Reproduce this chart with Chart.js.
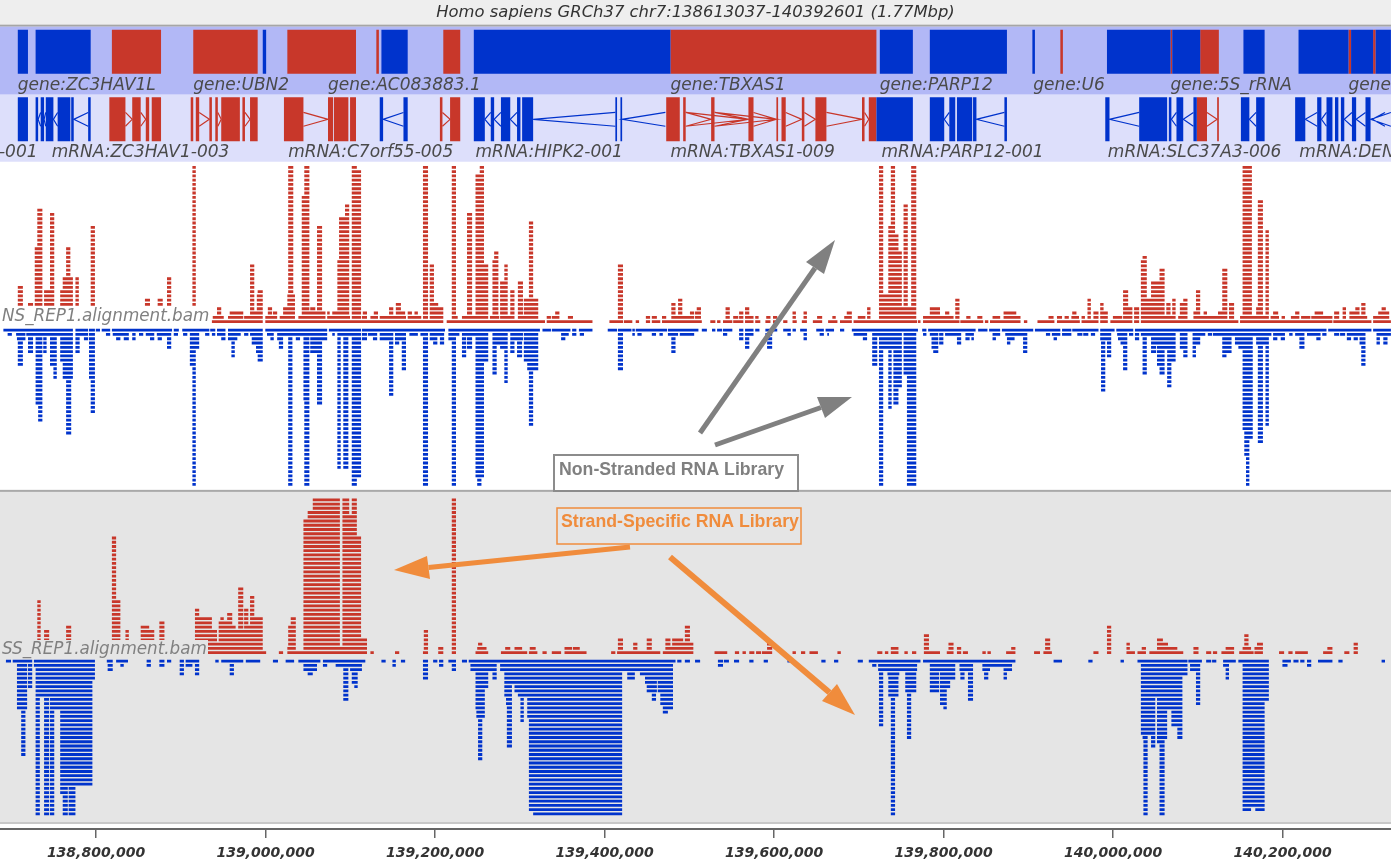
<!DOCTYPE html>
<html>
<head>
<meta charset="utf-8">
<title>GRCh37 chr7 read pileups</title>
<script src="https://cdn.jsdelivr.net/npm/chart.js@4/dist/chart.umd.min.js"></script>
<style>
html,body{margin:0;padding:0;background:#fff;overflow:hidden}
canvas{display:block}
</style>
</head>
<body>
<canvas id="browser" width="1391" height="862"></canvas>
<script>
//window shown in the browser
const viewStartBp=138686700;
const viewLengthKb=1641.1;
const xTickValues=[138800000,139000000,139200000,139400000,139600000,139800000,140000000,140200000];
const titleText='Homo sapiens GRCh37 chr7:138613037-140392601 (1.77Mbp)';

//annotation track, all positions are kb from the left of the window
const geneBlocksMinus=[[21,33],[42,107],[310,314],[450,481],[559,791],[1038,1077],[1097,1188],[1218,1221],[1306,1381],[1383,1416],[1467,1492],[1532,1591],[1594,1620],[1623,1641]];
const geneBlocksPlus=[[132,190],[228,304],[339,420],[444,447],[523,543],[791,1034],[1251,1254],[1381,1383],[1416,1438],[1591,1594],[1620,1623]];
const geneNames=['gene:ZC3HAV1L','gene:UBN2','gene:AC083883.1','gene:TBXAS1','gene:PARP12','gene:U6','gene:5S_rRNA','gene:DENND2A'];
const geneNameKb=[21,228,387,791,1038,1219,1381,1591];

const exonsMinus=[[21,33],[42,45],[48,52],[54,63],[68,83],[84,87],[104,107],[448,452],[476,481],[559,572],[579,583],[591,602],[610,614],[616,629],[726,728],[732,734],[1034,1077],[1097,1114],[1120,1127],[1129,1147],[1148,1152],[1185,1188],[1304,1309],[1344,1377],[1379,1382],[1388,1396],[1408,1412],[1464,1474],[1482,1492],[1528,1540],[1554,1559],[1565,1572],[1575,1579],[1582,1586],[1595,1600],[1611,1617]];
const exonsPlus=[[129,148],[156,166],[172,176],[179,190],[225,228],[231,235],[247,250],[254,257],[261,283],[286,289],[295,304],[335,358],[387,393],[394,411],[413,420],[519,522],[531,543],[786,802],[806,809],[839,843],[883,889],[916,918],[922,927],[946,949],[962,975],[1017,1020],[1025,1034],[1412,1424],[1436,1438]];
const intronsMinus=[[45,48],[52,54],[63,68],[87,104],[452,476],[572,579],[583,591],[602,610],[629,726],[734,785],[1114,1120],[1152,1185],[1309,1344],[1382,1388],[1396,1408],[1474,1482],[1540,1554],[1559,1565],[1586,1595],[1600,1611],[1617,1641],[1619,1634]];
const intronsPlus=[[148,156],[166,172],[235,247],[257,261],[289,295],[358,387],[522,531],[809,883],[843,916],[809,839],[843,883],[889,916],[927,946],[949,962],[975,1017],[1020,1025],[1424,1436]];
const mrnaNames=['mRNA:ZC3HAV1L-001','mRNA:ZC3HAV1-003','mRNA:C7orf55-005','mRNA:HIPK2-001','mRNA:TBXAS1-009','mRNA:PARP12-001','mRNA:SLC37A3-006','mRNA:DENND2A-001'];
const mrnaNameKb=[-175,61,340,561,791,1040,1307,1533];

//read piles: [start kb, end kb, depth]
const nsPlusPiles=[[21,27,9],[33,39,5],[41,46,18],[44,50,27],[52,58,8],[58,63,8],[59,64,26],[71,77,8],[74,80,11],[78,83,18],[81,86,11],[89,93,11],[107,112,23],[171,177,6],[186,192,6],[197,202,11],[227,231,37],
[250,310,1],[313,395,1],[398,490,1],[492,523,1],[527,538,1],[539,643,1],[645,693,1],[693,699,1],[719,734,1],[736,746,1],[750,754,1],[762,767,1],[769,779,1],[781,828,1],
[256,261,4],[251,257,2],[260,264,2],[271,287,3],[269,286,2],[288,309,2],[295,309,3],[295,300,14],[303,308,7],[304,310,8],[313,327,2],[316,321,4],[322,327,3],[330,346,2],[334,346,4],[339,348,7],[340,346,37],
[352,384,2],[356,362,30],[359,365,37],[363,384,3],[366,372,4],[374,380,23],[386,395,2],[386,389,3],[392,399,3],[398,413,2],[398,402,15],[400,409,25],[407,412,28],[415,426,36],[415,421,37],
[427,433,2],[428,433,3],[437,446,2],[441,446,3],[448,479,2],[459,464,4],[467,473,5],[468,478,3],[481,486,3],[489,493,3],[486,497,2],[499,505,37],[507,512,14],[507,517,5],[507,523,4],[537,540,2],[533,538,37],
[545,576,2],[551,557,26],[561,571,35],[566,571,37],[561,576,14],[578,589,2],[581,586,15],[583,588,17],[590,605,2],[590,599,10],[595,599,14],[602,607,8],[611,621,2],[611,617,10],[618,635,6],[624,629,24],
[645,650,2],[651,657,2],[655,660,3],[670,676,2],[729,735,14],[792,797,5],[800,805,6],[762,767,2],[769,775,2],[781,786,2],[792,814,2],
[838,844,1],[846,850,1],[853,864,1],[865,877,1],[879,889,1],[891,897,1],[903,909,1],[912,918,1],[924,929,1],[935,940,1],[946,952,1],[959,970,1],[977,988,1],[991,997,1],[1007,1082,1],[1083,1086,1],[1089,1130,1],[1133,1160,1],[1162,1166,1],[1168,1201,1],[1208,1212,1],[1224,1244,1],
[814,819,3],[820,826,3],[822,827,4],[856,861,4],[865,871,2],[872,877,3],[879,884,4],[884,889,2],[891,895,2],[904,909,2],[912,917,2],[935,939,3],[948,952,3],[964,970,2],[982,986,2],[996,1004,2],[999,1005,3],[1012,1021,2],[1023,1027,4],
[1037,1052,7],[1037,1042,37],[1048,1052,23],[1051,1056,37],[1054,1064,17],[1054,1060,21],[1037,1058,4],[1060,1081,4],[1066,1071,28],[1075,1081,37],[1089,1125,2],[1127,1132,6],[1097,1109,4],[1115,1120,3],[1140,1145,2],[1153,1159,2],[1171,1180,2],[1184,1204,2],[1184,1199,3],
[1247,1274,1],[1276,1296,1],[1298,1307,1],[1310,1336,1],[1338,1344,1],[1346,1437,1],[1441,1461,1],[1463,1572,1],[1573,1604,1],[1606,1611,1],[1613,1618,1],[1620,1641,1],
[1237,1243,2],[1247,1253,2],[1256,1261,2],[1264,1273,2],[1276,1280,2],[1290,1296,3],[1313,1324,2],[1390,1401,2],[1416,1422,2],[1424,1437,2],[1463,1483,2],[1486,1495,2],[1499,1509,2],[1512,1516,2],[1523,1533,2],[1535,1546,2],[1547,1553,2],[1555,1572,2],[1592,1613,2],[1620,1635,2],
[1265,1270,3],[1437,1448,3],[1502,1508,3],[1528,1533,3],[1551,1561,3],[1592,1602,3],[1626,1632,3],[1633,1639,3],[1420,1424,3],[1630,1635,4],[1599,1604,4],[1482,1487,4],[1298,1307,3],[1298,1302,5],
[1283,1287,6],[1325,1331,8],[1325,1336,4],[1338,1344,4],[1346,1366,6],[1346,1351,15],[1348,1353,16],[1358,1366,10],[1368,1374,13],[1365,1370,10],[1346,1387,2],[1376,1381,5],[1383,1387,6],[1392,1397,5],[1396,1401,6],[1408,1412,3],[1411,1416,8],
[1442,1448,13],[1450,1456,5],[1466,1477,37],[1484,1490,29],[1493,1497,22],[1606,1611,5],[1584,1588,4],[1574,1580,3]];

const nsMinusPiles=[[4,86,1],[90,104,1],[106,111,1],[113,118,1],[120,130,1],[132,143,1],[144,149,1],[151,203,1],[205,211,1],[215,245,1],[248,254,1],[256,266,1],[269,288,1],[291,310,1],[313,327,1],[329,386,1],[388,425,1],[427,525,1],[529,637,1],[640,650,1],[651,673,1],[675,680,1],[683,699,1],[717,728,1],[729,745,1],[750,771,1],[773,787,1],[789,824,1],
[828,834,1],[840,844,1],[846,852,1],[853,864,1],[872,877,1],[879,889,1],[891,896,1],[903,917,1],[924,929,1],[935,939,1],[944,952,1],[963,969,1],[974,984,1],[991,996,1],[1005,1021,1],[1023,1083,1],[1088,1092,1],[1095,1151,1],[1154,1165,1],[1167,1176,1],[1182,1219,1],[1221,1251,1],
[1253,1264,1],[1265,1296,1],[1298,1307,1],[1310,1315,1],[1317,1337,1],[1339,1425,1],[1429,1464,1],[1467,1565,1],[1567,1618,1],[1620,1641,1],
[9,14,2],[19,28,2],[31,86,2],[20,30,3],[21,27,9],[33,39,6],[42,47,18],[45,50,22],[51,55,6],[59,64,9],[63,67,12],[71,86,8],[74,80,12],[78,84,25],[81,86,12],[90,104,2],[89,94,6],[99,104,3],[105,111,12],[107,112,20],
[125,130,2],[133,149,2],[137,142,3],[146,152,3],[156,160,3],[164,169,2],[172,182,2],[177,182,3],[185,201,2],[186,191,3],[197,202,5],[205,210,2],[216,221,2],[224,235,5],[224,230,9],[227,231,37],[242,247,2],[250,254,2],[256,266,2],[261,266,3],
[269,284,2],[269,280,3],[273,277,7],[288,293,2],[295,310,2],[297,307,4],[302,307,6],[304,310,8],[315,320,2],[319,323,3],[327,332,3],[329,334,5],[329,386,2],[340,345,37],[349,354,3],[358,362,17],[359,365,37],[366,386,3],[366,380,6],[374,380,18],
[392,395,2],[398,425,2],[398,402,33],[405,411,33],[415,426,35],[415,421,37],[427,433,3],[434,445,2],[440,445,3],[448,464,3],[466,478,3],[459,464,16],[466,471,4],[474,479,10],[483,493,2],[496,505,2],[499,505,37],[507,523,2],[507,512,3],[511,516,4],[519,524,4],[529,535,3],[537,542,2],[533,538,37],
[545,576,2],[545,550,7],[551,557,5],[561,576,8],[561,571,35],[563,568,37],[581,590,4],[581,586,11],[590,599,5],[595,599,13],[602,617,3],[602,607,6],[610,616,7],[618,635,8],[622,635,10],[624,629,23],[662,667,3],[662,671,2],[675,680,2],[684,689,2],[729,735,10],
[746,749,2],[752,757,2],[769,774,2],[778,782,2],[788,800,2],[792,797,6],[802,819,2],[853,858,2],[872,877,3],[879,889,2],[879,884,5],[903,911,2],[905,911,5],[929,933,2],[948,952,3],[967,972,2],[976,978,2],
[1007,1020,2],[1018,1023,3],[1029,1035,9],[1029,1063,2],[1037,1057,5],[1037,1042,37],[1048,1052,19],[1054,1064,14],[1054,1060,18],[1066,1071,11],[1066,1081,5],[1070,1081,37],[1089,1093,2],[1097,1106,2],[1099,1104,5],[1101,1107,6],[1108,1113,4],[1115,1129,2],[1129,1134,4],[1139,1147,2],[1139,1144,3],[1146,1149,3],[1171,1180,2],[1171,1175,3],[1186,1210,2],[1188,1197,3],[1188,1192,4],[1207,1212,6],
[1234,1239,2],[1241,1251,2],[1243,1247,3],[1253,1264,2],[1271,1277,2],[1278,1284,2],[1287,1292,2],[1298,1307,3],[1299,1304,15],[1306,1311,7],[1318,1324,2],[1319,1330,3],[1325,1330,10],[1322,1326,4],[1332,1337,2],[1339,1344,3],
[1346,1366,2],[1348,1353,11],[1358,1366,4],[1358,1364,6],[1365,1370,9],[1368,1378,3],[1368,1374,11],[1371,1387,5],[1377,1382,14],[1377,1387,8],[1392,1397,5],[1396,1401,7],[1407,1422,2],[1407,1416,4],[1407,1411,7],[1425,1430,2],
[1431,1500,2],[1442,1453,6],[1442,1447,7],[1457,1463,4],[1461,1476,5],[1466,1477,24],[1468,1473,30],[1470,1474,37],[1473,1478,26],[1482,1487,4],[1484,1490,27],[1489,1495,4],[1493,1497,23],
[1502,1513,2],[1502,1507,3],[1511,1516,3],[1521,1525,2],[1528,1539,2],[1533,1539,5],[1542,1558,2],[1553,1558,3],[1560,1565,2],[1574,1580,2],[1581,1587,2],[1589,1599,2],[1589,1594,3],[1597,1602,3],[1601,1611,2],[1604,1609,4],[1606,1611,9],[1624,1641,2],[1624,1628,4],[1632,1637,4]];

const ssPlusPiles=[[44,48,13],[52,58,6],[78,84,7],[132,137,28],[132,142,13],[148,152,6],[166,176,7],[176,182,6],[188,194,8],[230,235,11],[230,250,9],[249,256,6],[249,309,3],[258,269,8],[260,264,9],[268,274,10],[264,278,7],[277,307,6],[281,287,16],[288,293,11],[295,300,14],[295,310,9],[288,310,7],[310,314,1],
[329,334,1],[339,349,2],[340,345,7],[343,349,9],[339,431,1],[358,401,32],[363,401,34],[369,401,37],[404,426,28],[404,421,33],[404,412,37],[415,421,37],[358,431,2],[426,433,4],
[437,441,1],[466,471,1],[499,505,1],[500,505,6],[517,523,2],[533,538,37],[561,576,1],[563,574,2],[564,569,3],[591,622,1],[596,602,2],[607,616,2],[624,634,1],[625,632,2],[640,645,1],[651,662,1],[666,692,1],[666,675,2],[676,684,2],
[721,726,1],[728,779,1],[729,735,4],[747,752,3],[763,769,4],[782,814,1],[785,791,4],[793,806,4],[787,814,2],[798,814,3],[808,814,7],[814,818,3],
[843,858,1],[867,872,1],[876,880,1],[884,890,1],[892,898,1],[899,911,1],[905,911,3],[935,939,1],[945,950,1],[955,965,1],[988,992,1],[1035,1041,1],[1044,1048,1],[1051,1056,2],[1055,1060,2],[1067,1071,1],[1076,1081,1],[1090,1096,5],[1090,1109,1],[1117,1122,1],[1119,1125,3],[1129,1134,2],[1136,1142,1],[1159,1163,1],[1165,1169,1],[1187,1198,1],[1193,1198,2],[1220,1227,1],
[1231,1241,1],[1233,1239,4],[1290,1296,1],[1306,1311,7],[1329,1339,1],[1329,1333,3],[1342,1352,1],[1347,1352,2],[1356,1366,1],[1368,1396,1],[1365,1372,4],[1365,1378,3],[1370,1389,2],[1408,1414,2],[1423,1429,1],[1431,1436,1],[1441,1456,1],[1446,1456,2],[1462,1479,1],[1466,1476,2],[1468,1473,5],[1480,1490,2],[1483,1490,3],[1509,1515,1],[1520,1525,1],[1528,1543,1],[1561,1572,1],[1566,1572,2],[1586,1592,1],[1597,1602,3]];

const ssMinusPiles=[[7,13,1],[15,38,1],[40,51,1],[52,58,1],[59,86,1],[89,100,1],[101,111,1],[126,133,1],[137,151,1],[173,178,1],[188,194,1],[197,202,1],[212,217,1],[219,234,1],[254,258,1],[261,287,1],[290,307,1],[322,328,1],[337,347,1],[352,378,1],[381,431,1],
[20,32,12],[25,30,23],[33,38,7],[40,112,2],[42,90,5],[100,112,5],[42,109,9],[59,109,12],[71,109,20],[77,109,30],[71,77,32],[42,47,37],[52,58,37],[59,64,37],[74,80,37],[81,89,37],
[127,133,3],[142,146,2],[173,178,2],[188,194,2],[212,217,4],[219,227,2],[230,235,4],[271,276,4],[358,374,3],[363,369,4],[381,386,2],[396,401,2],[405,411,10],[401,427,2],[413,427,3],[415,421,6],[418,422,7],
[450,455,1],[463,467,2],[473,478,1],[499,505,5],[511,516,1],[518,523,2],[529,535,1],[533,538,3],[545,551,1],[553,596,1],[555,586,3],[561,576,7],[561,570,12],[562,572,14],[564,569,24],[581,586,5],
[598,616,1],[590,616,3],[595,611,4],[595,599,9],[597,602,11],[598,604,21],[618,797,1],[618,794,3],[602,734,6],[607,734,8],[611,734,9],[614,618,15],[622,734,14],[624,734,36],[629,734,37],
[740,749,5],[755,771,4],[761,771,6],[763,775,8],[769,774,10],[774,794,5],[776,794,8],[779,791,11],[782,788,13],[788,794,12],
[799,804,1],[808,814,1],[820,826,1],[847,853,2],[854,860,1],[866,872,1],[884,889,1],[901,906,1],[929,932,1],[969,974,1],[984,989,1],[1012,1018,1],
[1025,1045,1],[1029,1034,2],[1036,1049,3],[1037,1042,16],[1047,1061,4],[1048,1052,9],[1051,1056,37],[1055,1060,9],[1055,1082,3],[1068,1081,8],[1070,1075,19],[1048,1086,1],[1089,1120,1],[1097,1127,3],[1097,1108,8],[1109,1127,5],[1109,1121,7],[1109,1114,11],[1113,1117,12],[1125,1135,1],[1138,1189,1],[1132,1148,3],[1142,1148,10],[1133,1138,5],[1159,1168,3],[1161,1166,5],[1168,1194,2],[1184,1194,3],[1184,1188,5],[1193,1198,1],
[1243,1253,1],[1284,1289,1],[1322,1326,1],[1342,1372,1],[1377,1399,1],[1346,1398,2],[1348,1353,19],[1349,1354,37],[1346,1358,18],[1358,1366,9],[1358,1363,21],[1365,1370,20],[1368,1374,37],[1372,1377,19],[1371,1392,12],[1382,1392,16],[1389,1395,19],[1377,1401,4],
[1402,1418,1],[1404,1414,3],[1411,1416,11],[1423,1429,1],[1430,1435,1],[1443,1458,1],[1443,1449,2],[1446,1450,5],[1461,1490,1],[1493,1497,4],[1466,1490,2],[1466,1497,4],[1466,1496,8],[1466,1497,10],[1466,1487,12],[1466,1492,13],[1466,1486,32],[1466,1492,35],[1466,1476,36],[1481,1492,36],
[1513,1523,1],[1513,1519,2],[1526,1532,1],[1534,1539,1],[1542,1547,2],[1555,1572,1],[1579,1584,1],[1630,1634,1]];

const RED='#c8372a';
const BLUE='#0033cc';
const toBp=kb=>viewStartBp+kb*1000;

//one flat segment per read row, a NaN point breaks the line between them
function pileRows(piles,sign){
  let pts=[];
  for(let row=1;row<=37;row++){
    piles.forEach(p=>{
      if(p[2]>=row){
        pts.push({x:toBp(p[0]),y:sign*row},{x:toBp(p[1]),y:sign*row},{x:toBp(p[1]),y:NaN});
      }
    });
  }
  return pts;
}
function blocks(list,y){
  let pts=[];
  list.forEach(b=>pts.push({x:toBp(b[0]),y:y},{x:toBp(b[1]),y:y},{x:toBp(b[1]),y:NaN}));
  return pts;
}
//intron chevrons: minus strand points left, plus strand points right
function chevrons(list,y,open,apex){
  let pts=[];
  list.forEach(b=>{
    pts.push({x:toBp(b[open]),y:y+7},{x:toBp(b[apex]),y:y},{x:toBp(b[open]),y:y-7},{x:toBp(b[open]),y:NaN});
  });
  return pts;
}
function track(data,axis,color,width){
  return {data:data,yAxisID:axis,borderColor:color,borderWidth:width,pointRadius:0,fill:false,tension:0,spanGaps:false,borderCapStyle:'butt'};
}
function arrow(ctx,tail,tip,a,b,color,width){
  ctx.strokeStyle=color;
  ctx.fillStyle=color;
  ctx.lineWidth=width;
  ctx.beginPath();
  ctx.moveTo(tail[0],tail[1]);
  ctx.lineTo((a[0]+b[0])/2,(a[1]+b[1])/2);
  ctx.stroke();
  ctx.beginPath();
  ctx.moveTo(tip[0],tip[1]);
  ctx.lineTo(a[0],a[1]);
  ctx.lineTo(b[0],b[1]);
  ctx.closePath();
  ctx.fill();
}
//hidden track axes stacked down the page, top one has the highest weight
function trackAxis(height,weight,min,max){
  return {
    display:false,position:'left',stack:'tracks',stackWeight:height,weight:weight,min:min,max:max,
    ticks:{display:false},
    afterFit(s){s.paddingTop=0;s.paddingBottom=0;}
  };
}

//bands behind the tracks
const bandsPlugin={
  id:'bands',
  beforeDraw(chart){
    const c=chart.ctx, s=chart.scales, w=chart.width;
    c.save();
    c.fillStyle='#eeeeee';
    c.fillRect(0,0,w,s.yGene.top);
    c.fillStyle='#a6a6a6';
    c.fillRect(0,s.yGene.top-2,w,2);
    c.fillStyle='#b2b8f6';
    c.fillRect(0,s.yGene.top,w,s.yGene.height);
    c.fillStyle='#dddffb';
    c.fillRect(0,s.yMrna.top,w,s.yMrna.height);
    c.fillStyle='#e5e5e5';
    c.fillRect(0,s.ySs.top,w,s.ySs.height);
    c.fillStyle='#a9a9a9';
    c.fillRect(0,s.ySs.top-1,w,2);
    c.fillStyle='#c8c8c8';
    c.fillRect(0,s.ySs.bottom,w,2);
    c.restore();
  }
};

//names, track labels and the hand drawn call-outs
const labelsPlugin={
  id:'labels',
  afterDatasetsDraw(chart){
    const c=chart.ctx, s=chart.scales;
    c.save();
    c.textBaseline='middle';
    c.textAlign='left';
    c.font='italic 17px "DejaVu Sans"';
    c.fillStyle='#4a4a4a';
    geneNames.forEach((n,i)=>c.fillText(n,s.x.getPixelForValue(toBp(geneNameKb[i])),s.yGene.getPixelForValue(9)));
    mrnaNames.forEach((n,i)=>c.fillText(n,s.x.getPixelForValue(toBp(mrnaNameKb[i])),s.yMrna.getPixelForValue(9)));

    //the alignment labels sit on an opaque strip that hides the lowest rows
    c.font='italic 16.8px "DejaVu Sans"';
    c.fillStyle='#ffffff';
    c.fillRect(0,306,211,19);
    c.fillStyle='#808080';
    c.fillText('NS_REP1.alignment.bam',2,317);
    c.fillStyle='#e5e5e5';
    c.fillRect(0,640,208,19);
    c.fillStyle='#808080';
    c.fillText('SS_REP1.alignment.bam',2,650);

    //grey call-out
    arrow(c,[700,433],[835,240],[806,262],[824,274],'#808080',5);
    arrow(c,[715,445],[852,397],[817,397],[825,418],'#808080',5);
    c.fillStyle='#ffffff';
    c.fillRect(554,455,244,36);
    c.strokeStyle='#8c8c8c';
    c.lineWidth=2;
    c.strokeRect(554,455,244,36);
    c.font='bold 17.7px "Liberation Sans"';
    c.fillStyle='#808080';
    c.fillText('Non-Stranded RNA Library',559,470);

    //orange call-out
    arrow(c,[630,547],[394,570],[427,556],[430,579],'#f08c3c',5);
    arrow(c,[670,557],[855,715],[837,684],[822,701],'#f08c3c',6);
    c.strokeStyle='#f08c3c';
    c.lineWidth=1.5;
    c.strokeRect(557,508,244,36);
    c.fillStyle='#f08c3c';
    c.fillText('Strand-Specific RNA Library',561,522);
    c.restore();
  }
};

let browser=new Chart(document.getElementById('browser'),{
  type:'line',
  data:{
    datasets:[
      track(blocks(geneBlocksMinus,43),'yGene',BLUE,44),
      track(blocks(geneBlocksPlus,43),'yGene',RED,44),
      track(chevrons(intronsMinus,43,1,0),'yMrna',BLUE,1.2),
      track(chevrons(intronsPlus,43,0,1),'yMrna',RED,1.2),
      track(blocks(exonsMinus,43),'yMrna',BLUE,44),
      track(blocks(exonsPlus,43),'yMrna',RED,44),
      track(pileRows(nsPlusPiles,1),'yNs',RED,2.8),
      track(pileRows(nsMinusPiles,-1),'yNs',BLUE,2.8),
      track(pileRows(ssPlusPiles,1),'ySs',RED,2.8),
      track(pileRows(ssMinusPiles,-1),'ySs',BLUE,2.8)
    ]
  },
  options:{
    responsive:false,
    animation:false,
    devicePixelRatio:1,
    events:[],
    layout:{padding:0},
    plugins:{
      legend:{display:false},
      tooltip:{enabled:false},
      title:{
        display:true,
        text:titleText,
        color:'#333',
        font:{family:'"DejaVu Sans"',size:16.4,style:'italic',weight:'normal'},
        padding:{top:3,bottom:4}
      }
    },
    scales:{
      x:{
        type:'linear',
        min:viewStartBp,
        max:toBp(viewLengthKb),
        afterBuildTicks:axis=>{axis.ticks=xTickValues.map(v=>({value:v}));},
        afterFit(s){s.height=33;},
        border:{color:'#666',width:2},
        grid:{drawOnChartArea:false,color:'#666',lineWidth:1.5,tickLength:9},
        ticks:{
          autoSkip:false,
          maxRotation:0,
          padding:7,
          color:'#333',
          font:{family:'"DejaVu Sans"',size:14,style:'italic',weight:'bold'},
          callback:v=>v.toLocaleString('en-US')
        }
      },
      yGene:trackAxis(68,5,0,68),
      yMrna:trackAxis(67,4,0,68),
      yNs:trackAxis(329,3,-38.5,38.3),
      ySs:trackAxis(331,2,-38.9,39.1),
      yGap:trackAxis(7,1,0,1)
    }
  },
  plugins:[bandsPlugin,labelsPlugin]
});
</script>
</body>
</html>
